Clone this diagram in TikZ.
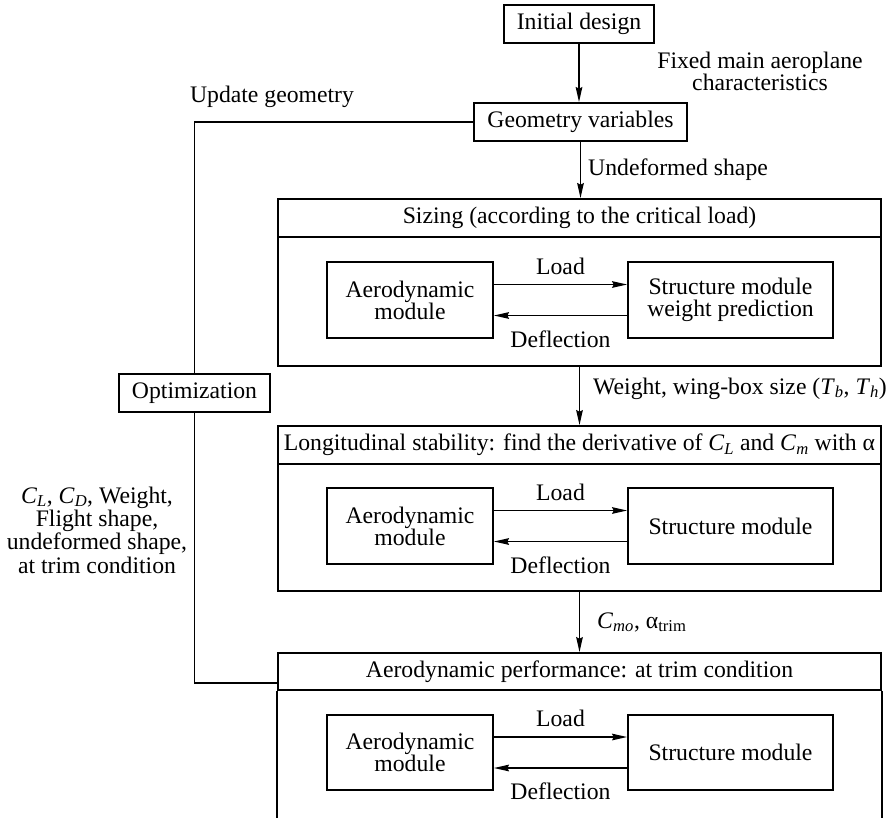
\documentclass[tikz,border=0pt]{standalone}
\usepackage{fontspec}
\setmainfont{Liberation Serif}
\usetikzlibrary{arrows.meta}

\tikzset{
  blk/.style={draw, line width=1.7pt, inner sep=0pt, align=center, minimum height=38pt},
  flow/.style={line width=1.7pt, -{Stealth[length=15pt, width=6.5pt, inset=1.5pt]}},
  link/.style={line width=1.7pt},
  lbl/.style={inner sep=0pt, align=center},
}
\newcommand{\csub}[2]{\textit{#1}\textsubscript{\textit{#2}}}

\begin{document}
\begin{tikzpicture}[x=1pt, y=-1pt, font=\fontsize{23.7}{22}\selectfont]
  \useasboundingbox (0,0) rectangle (888,817);

  % --- top of the chain ---
  \node[blk, minimum width=150pt] (init) at (579,24) {Initial design};
  \node[blk, minimum width=213pt] (geom) at (580.5,122) {Geometry variables};
  \node[blk, minimum width=151pt] (opt)  at (194.5,393) {Optimization};

  % --- sizing block ---
  \node[blk, minimum width=603pt] (sizT) at (579.5,218) {Sizing (according to the critical load)};
  \node[blk, minimum width=603pt, minimum height=129pt] (sizB) at (579.5,301.5) {};
  \node[blk, minimum width=166pt, minimum height=76pt] (sizA) at (410,300) {Aerodynamic\\module};
  \node[blk, minimum width=205pt, minimum height=76pt] (sizS) at (730.5,300) {Structure module\\weight prediction};

  % --- longitudinal stability block ---
  \node[blk, minimum width=603pt] (lonT) at (579.5,445)
    {Longitudinal stability: find the derivative of \csub{C}{L} and \csub{C}{m} with α};
  \node[blk, minimum width=603pt, minimum height=127pt] (lonB) at (579.5,527.5) {};
  \node[blk, minimum width=166pt, minimum height=76pt] (lonA) at (410,526) {Aerodynamic\\module};
  \node[blk, minimum width=205pt, minimum height=76pt] (lonS) at (730.5,526) {Structure module};

  % --- performance block (open at the bottom) ---
  \node[blk, minimum width=603pt, minimum height=37pt] (perfT) at (579.5,671.5)
    {Aerodynamic performance: at trim condition};
  \draw[link] (perfT.south west) -- ++(0,150);
  \draw[link] (perfT.south east) -- ++(0,150);
  \node[blk, minimum width=166pt, minimum height=75pt] (perfA) at (410,752.5) {Aerodynamic\\module};
  \node[blk, minimum width=205pt, minimum height=75pt] (perfS) at (730.5,752.5) {Structure module};

  % === main flow ===
  \draw[flow] (init) -- (init |- geom.north);
  \draw[flow] (geom) -- (geom |- sizT.north);
  \draw[flow] (sizB.south) -- (lonT.north);
  \draw[flow] (lonB.south) -- (perfT.north);

  % === load / deflection exchange ===
  \draw[flow] ([yshift=15.5pt]sizA.east) -- ([yshift=15.5pt]sizS.west)
    node[lbl, midway, above=9pt] (sizL) {Load};
  \draw[flow] ([yshift=-15.5pt]sizS.west) -- ([yshift=-15.5pt]sizA.east)
    node[lbl, midway, below=14pt] (sizD) {Deflection};
  \draw[flow] ([yshift=15.5pt]lonA.east) -- ([yshift=15.5pt]lonS.west)
    node[lbl, midway, above=9pt] (lonL) {Load};
  \draw[flow] ([yshift=-15.5pt]lonS.west) -- ([yshift=-15.5pt]lonA.east)
    node[lbl, midway, below=14pt] (lonD) {Deflection};
  \draw[flow] ([yshift=15.5pt]perfA.east) -- ([yshift=15.5pt]perfS.west)
    node[lbl, midway, above=9pt] (perfL) {Load};
  \draw[flow] ([yshift=-15.5pt]perfS.west) -- ([yshift=-15.5pt]perfA.east)
    node[lbl, midway, below=14pt] (perfD) {Deflection};

  % === optimization loop ===
  \draw[link] (geom.west) -| (opt.north);
  \draw[link] (opt.south) |- ([yshift=-11.5pt]perfT.west);

  % === free labels ===
  \node[lbl] (fixL) at (760,71) {Fixed main aeroplane\\characteristics};
  \node[lbl, anchor=base] (updL) at (272,102) {Update geometry};
  \node[lbl, anchor=base west] (undL) at (588,175) {Undeformed shape};
  \node[lbl, anchor=base west] (wgtL) at (593,394)
    {Weight, wing-box size (\csub{T}{b}, \csub{T}{h})};
  \node[lbl, anchor=base west] (cmoL) at (597,628) {\csub{C}{mo}, α\textsubscript{trim}};
  \node[lbl, font=\fontsize{23.7}{23.3}\selectfont] (resL) at (97,530)
    {\csub{C}{L}, \csub{C}{D}, Weight,\\Flight shape,\\undeformed shape,\\at trim condition};
\end{tikzpicture}
\end{document}
